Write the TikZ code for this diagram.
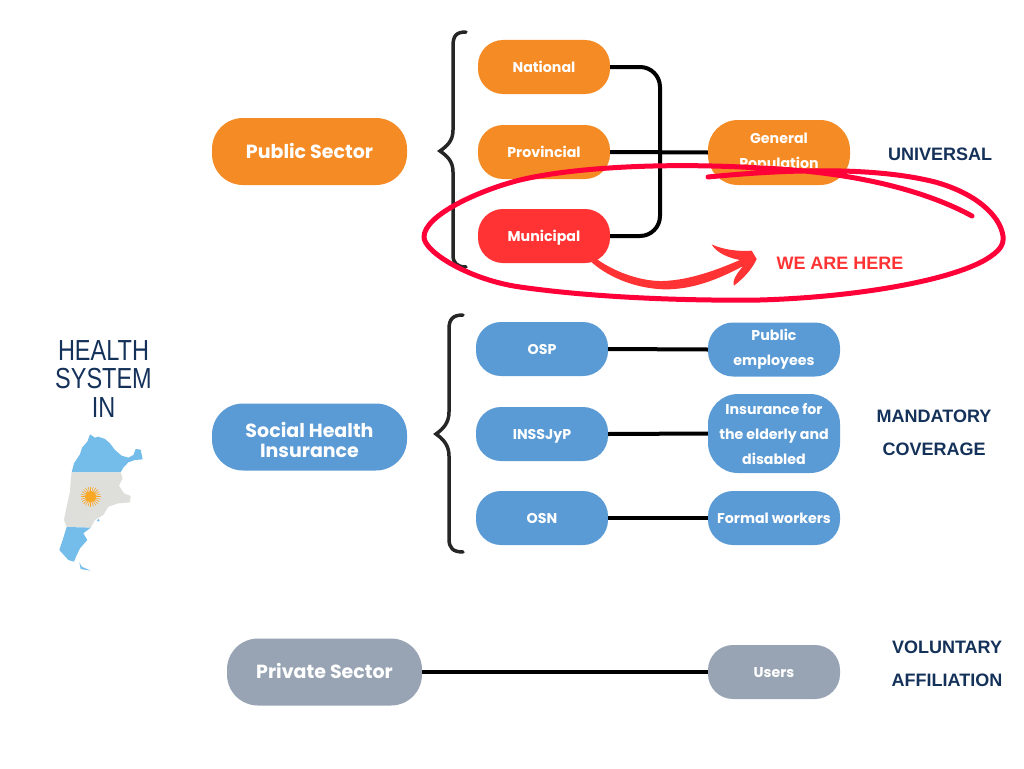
\documentclass[tikz,border=0pt]{standalone}
\usepackage{fontspec}
\setmainfont{Poppins}
\newfontfamily\labelfont{Liberation Sans}
\newfontfamily\titlefont[FakeStretch=0.81]{Liberation Sans}
\usetikzlibrary{calc}

\definecolor{cOrange}{HTML}{F58B25}
\definecolor{cRed}{HTML}{FF3333}
\definecolor{cBlue}{HTML}{5B9BD5}
\definecolor{cGrey}{HTML}{98A4B3}
\definecolor{cNavy}{HTML}{14315A}
\definecolor{cInk}{HTML}{FF0038}
\definecolor{cSky}{HTML}{74BDEB}
\definecolor{cLand}{HTML}{DEDEDB}
\definecolor{cSun}{HTML}{F9A826}

\tikzset{
    pill/.style={rounded corners=25, text=white, align=center, inner sep=0pt,
        font=\bfseries\fontsize{14.2}{25}\selectfont},
    bigpill/.style={pill, rounded corners=31, minimum width=195, minimum height=67,
        font=\bfseries\fontsize{19}{20}\selectfont},
    smallpill/.style={pill, minimum width=132, minimum height=54},
    oneline/.style={text height=12, text depth=2},
    bigline/.style={text height=15, text depth=1.7},
    link/.style={line width=4, black},
    brace/.style={line width=3.5, color=black!85, line cap=round},
    coverage/.style={text=cNavy, align=center, font=\labelfont\bfseries\fontsize{18}{33}\selectfont},
    inkline/.style={line width=5, color=cInk, line cap=round, line join=round},
}

\begin{document}
\begin{tikzpicture}[x=1pt, y=-1pt]
    \useasboundingbox (0,0) rectangle (1024,768);

    % Sector boxes
    \node[bigpill, bigline, fill=cOrange] (public) at (309.5,151.5) {Public Sector};
    \node[bigpill, fill=cBlue] (social) at (309.5,437) {\rule{0pt}{22pt}Social Health\\Insurance};
    \node[bigpill, bigline, fill=cGrey] (private) at (324.5,672) {Private Sector};

    % Public sector levels
    \node[smallpill, oneline, fill=cOrange] (national) at (544,67) {National};
    \node[smallpill, oneline, fill=cOrange] (provincial) at (544,152) {Provincial};
    \node[smallpill, oneline, fill=cRed] (municipal) at (544,236) {Municipal};
    \node[pill, fill=cOrange, minimum width=142, minimum height=65, rounded corners=30] (general) at (779,152.5) {General\\Population};

    % Social insurance levels
    \node[smallpill, oneline, fill=cBlue] (osp) at (542,349) {OSP};
    \node[smallpill, oneline, fill=cBlue] (inssjyp) at (542,434) {INSSJyP};
    \node[smallpill, oneline, fill=cBlue] (osn) at (542,518) {OSN};
    \node[smallpill, fill=cBlue] (employees) at (774,349.5) {Public\\employees};
    \node[smallpill, fill=cBlue, minimum height=79, rounded corners=30] (elderly) at (774,433.5) {Insurance for\\the elderly and\\disabled};
    \node[smallpill, oneline, fill=cBlue] (formal) at (774,518) {Formal workers};
    \node[smallpill, oneline, fill=cGrey] (users) at (774,672) {Users};

    % Draw connectors
    \coordinate (trunk) at (660,152);
    \draw[link, rounded corners=20] (national.east) -| (trunk) |- (municipal.east);
    \draw[link] (provincial.east) -- (general.west);
    \draw[link] (osp.east) -- (employees.west);
    \draw[link] (inssjyp.east) -- (elderly.west);
    \draw[link] (osn.east) -- (formal.west);
    \draw[link] (private.east) -- (users.west);

    % Draw braces
    \draw[brace] (466,32) .. controls (456,32) and (453,36) .. (453,46) -- (453,130)
        .. controls (453,141) and (447,146) .. (440,151)
        .. controls (447,156) and (453,161) .. (453,172) -- (453,255)
        .. controls (453,263) and (457,267) .. (466,267);
    \draw[brace] (463,315) .. controls (453,315) and (449,319) .. (449,329) -- (449,412)
        .. controls (449,423) and (443,429) .. (436,434)
        .. controls (443,439) and (449,445) .. (449,456) -- (449,539)
        .. controls (449,548) and (453,552) .. (463,552);

    % Coverage labels
    \node[coverage] (universal) at (940,154) {UNIVERSAL};
    \node[coverage] (mandatory) at (934,433) {MANDATORY\\COVERAGE};
    \node[coverage] (voluntary) at (947,664) {VOLUNTARY\\AFFILIATION};

    % Title
    \node[text=cNavy, align=center, font=\titlefont\fontsize{29}{28.5}\selectfont] (title) at (103.5,379) {HEALTH\\SYSTEM\\IN};

    % Draw the map
    \begin{scope}[shift={(50,425)}, scale=0.3333]
        \fill[cSky] (65,142) -- (72,115) -- (90,88) -- (96,68) -- (112,50) -- (120,28) -- (135,38)
            -- (145,35) -- (165,42) -- (180,55) -- (195,75) -- (215,92) -- (235,98) -- (250,90)
            -- (257,72) -- (272,74) -- (278,103) -- (255,105) -- (235,112) -- (220,128) -- (212,142) -- cycle;
        \fill[cLand] (65,142) -- (212,142) -- (218,160) -- (207,182) -- (222,205) -- (242,213)
            -- (240,232) -- (205,235) -- (175,245) -- (160,270) -- (135,285) -- (122,308)
            -- (50,306) -- (42,285) -- (48,255) -- (60,200) -- (62,165) -- cycle;
        \fill[cSky] (50,306) -- (122,308) -- (100,325) -- (112,345) -- (90,370) -- (78,395)
            -- (72,410) -- (55,405) -- (28,375) -- (38,345) -- cycle;
        \fill[cSky] (88,412) -- (95,425) -- (122,437) -- (92,432) -- cycle;
        \fill[cSky] (145,286) circle (4);
        \foreach \i in {0,15,...,345}
            \draw[cSun, line width=0.6] (122,215) -- ++(\i:30);
        \fill[cSun] (122,215) circle (17);
    \end{scope}

    % Draw the hand ring and arrow
    \draw[inkline] (972,216) .. controls (930,193) and (860,172) .. (760,168)
        .. controls (660,162) and (570,168) .. (520,180)
        .. controls (480,190) and (424,215) .. (424,237)
        .. controls (424,252) and (470,280) .. (520,287)
        .. controls (590,297) and (680,301) .. (760,300)
        .. controls (860,297) and (950,280) .. (985,260)
        .. controls (1000,251) and (1004,245) .. (1003,236)
        .. controls (1000,215) and (975,193) .. (935,182)
        .. controls (880,168) and (800,168) .. (708,177);
    \begin{scope}[shift={(580,235)}, scale=0.3333]
        \coordinate (arrowstart) at (35,82);
        \fill[cRed] (arrowstart) -- (50,72) .. controls (110,115) and (190,140) .. (250,138)
            .. controls (330,135) and (410,105) .. (480,75)
            .. controls (450,70) and (410,55) .. (395,28)
            .. controls (430,45) and (480,50) .. (515,47)
            -- (530,72) .. controls (515,105) and (490,130) .. (462,152)
            .. controls (455,135) and (475,110) .. (490,93)
            .. controls (420,130) and (340,165) .. (250,163)
            .. controls (170,160) and (90,130) .. (arrowstart) -- cycle;
    \end{scope}
    \node[text=cRed, font=\labelfont\bfseries\fontsize{18}{20}\selectfont] (here) at (840,263) {WE ARE HERE};
\end{tikzpicture}
\end{document}
